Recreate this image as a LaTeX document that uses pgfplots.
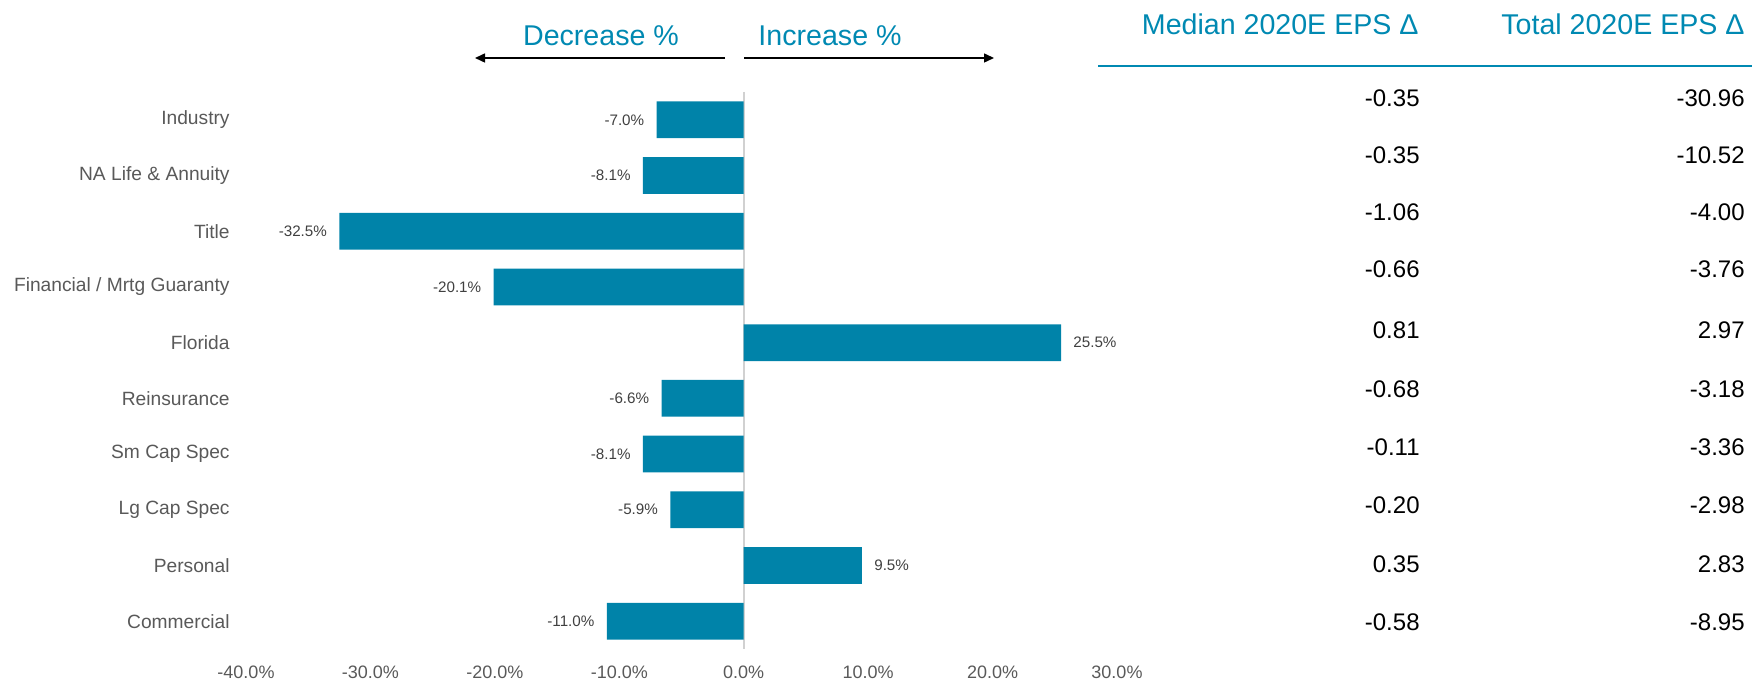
\documentclass[border=0pt]{standalone}
\usepackage{pgfplots}
\pgfplotsset{compat=1.18}
\usepackage{fontspec}
\setmainfont{Liberation Sans}
\usetikzlibrary{arrows.meta}
\definecolor{barblue}{RGB}{0,131,169}
\definecolor{headblue}{RGB}{0,137,178}
\definecolor{labgray}{RGB}{89,89,89}
\definecolor{valgray}{RGB}{64,64,64}
\begin{document}
\begin{tikzpicture}
\useasboundingbox (0,0) rectangle (876pt,340pt);
\begin{axis}[
  at={(123pt,15.5pt)}, anchor=south west,
  scale only axis, width=435.5pt, height=278.5pt,
  xbar, bar width=0.66,
  xmin=-40, xmax=30, ymin=-0.5, ymax=9.5, y dir=reverse,
  xtick={-40,-30,...,30},
  xticklabels={-40.0\%,-30.0\%,-20.0\%,-10.0\%,0.0\%,10.0\%,20.0\%,30.0\%},
  ytick={0,...,9},
  yticklabels={Industry,NA Life \& Annuity,Title,Financial / Mrtg Guaranty,Florida,Reinsurance,Sm Cap Spec,Lg Cap Spec,Personal,Commercial},
  axis line style={draw=none}, major tick length=0pt,
  xticklabel style={font=\fontsize{9}{10}\selectfont, text=labgray, anchor=center, inner sep=0pt, yshift=-11.6pt},
  yticklabel style={font=\fontsize{9.6}{11}\selectfont, text=labgray, anchor=east, inner sep=0pt, xshift=-8pt},
  extra x ticks={0}, extra x tick labels={},
  extra x tick style={grid=major, major grid style={draw=black!18, line width=0.9pt}},
  nodes near coords={\pgfmathprintnumber[fixed,fixed zerofill,precision=1,assume math mode=true]{\pgfplotspointmeta}\%},
  every node near coord/.append style={font=\fontsize{7.6}{9}\selectfont, text=valgray, inner xsep=6pt, inner ysep=0pt},
  clip=false,
]
\addplot[fill=barblue, draw=none] coordinates {
  (-7.0,0) (-8.1,1) (-32.5,2) (-20.1,3) (25.5,4)
  (-6.6,5) (-8.1,6) (-5.9,7) (9.5,8) (-11.0,9)};
\end{axis}
% direction arrows and captions
\draw[line width=0.75pt, -{Triangle[length=5pt,width=4.5pt]}] (362.5pt,311pt) -- (237.5pt,311pt);
\draw[line width=0.75pt, -{Triangle[length=5pt,width=4.5pt]}] (372pt,311pt) -- (497pt,311pt);
\node[text=headblue, font=\fontsize{14.3}{16}\selectfont] at (300.5pt,322pt) {Decrease \%};
\node[text=headblue, font=\fontsize{14.3}{16}\selectfont] at (415pt,322pt) {Increase \%};
% table on the right
\node[anchor=east, inner sep=0pt, text=headblue, font=\fontsize{14.3}{16}\selectfont] at (709.5pt,327.7pt) {Median 2020E EPS Δ};
\node[anchor=east, inner sep=0pt, text=headblue, font=\fontsize{14.3}{16}\selectfont] at (872.5pt,327.7pt) {Total 2020E EPS Δ};
\draw[headblue, line width=1pt] (549pt,307pt) -- (876pt,307pt);
\foreach \yy/\md/\tt in {290.85/-0.35/-30.96, 262.35/-0.35/-10.52, 233.85/-1.06/-4.00,
  205.35/-0.66/-3.76, 174.65/0.81/2.97, 145.6/-0.68/-3.18, 116.55/-0.11/-3.36,
  87.5/-0.20/-2.98, 57.9/0.35/2.83, 28.85/-0.58/-8.95} {
  \node[anchor=east, inner sep=0pt, font=\fontsize{12}{14}\selectfont] at (710pt,\yy pt) {\md};
  \node[anchor=east, inner sep=0pt, font=\fontsize{12}{14}\selectfont] at (872.5pt,\yy pt) {\tt};
}
\end{tikzpicture}
\end{document}
